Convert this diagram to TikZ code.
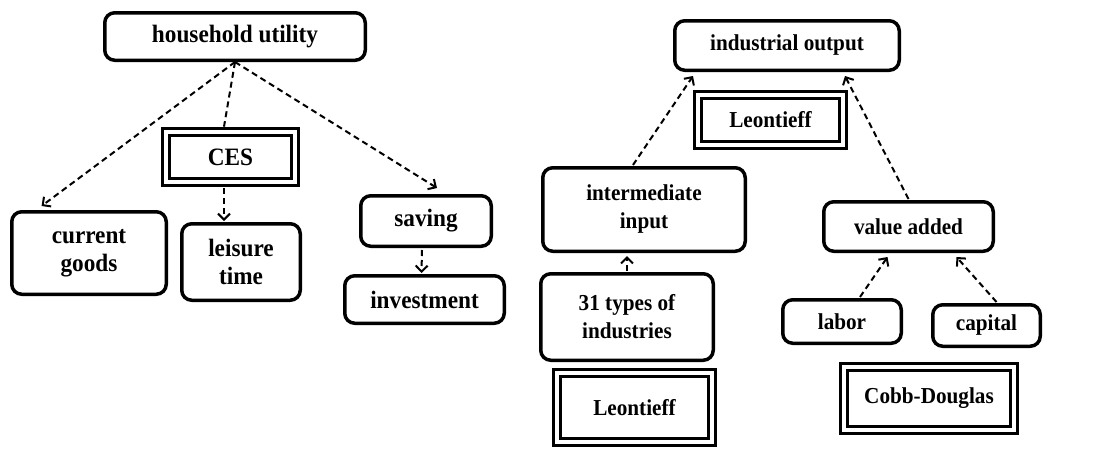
\documentclass[tikz,border=0pt]{standalone}
\usepackage{fontspec}
\setmainfont{Liberation Serif}[FakeStretch=0.93]
\usetikzlibrary{arrows.meta,calc}
\begin{document}
\begin{tikzpicture}[x=1pt,y=-1pt,
  box/.style={draw,line width=3.5pt,rounded corners=10pt,align=center,inner sep=0pt},
  dbox/.style={draw,double,line width=3.2pt,double distance=3.8pt,align=center,inner sep=0pt},
  lf/.style={font=\fontsize{25}{28}\selectfont\bfseries},
  rf/.style={font=\fontsize{22.8}{28}\selectfont\bfseries},
  dar/.style={line width=2pt,dash pattern=on 6pt off 4pt,-{Straight Barb[length=6pt,width=12pt,line width=2pt]}},
  dln/.style={line width=2pt,dash pattern=on 6pt off 4pt}]
\useasboundingbox (0,0) rectangle (1104,448);
% left diagram
\node[box,lf,minimum width=260.5pt,minimum height=47.5pt] (hu) at (235,36.5) {household utility};
\node[dbox,lf,minimum width=128.5pt,minimum height=49.5pt] (ces) at (230.5,157) {CES};
\node[box,lf,minimum width=154.5pt,minimum height=82.5pt] (cg) at (89,253) {current\\goods};
\node[box,lf,minimum width=118.5pt,minimum height=76.5pt] (lt) at (241,262) {leisure\\time};
\node[box,lf,minimum width=130.5pt,minimum height=50.5pt] (sv) at (426,221) {saving};
\node[box,lf,minimum width=159.5pt,minimum height=47.5pt] (inv) at (424.5,299.5) {investment};
\draw[dar] (hu.south) -- ($(cg.north west)!0.2!(cg.north east)+(0,-4)$);
\draw[dln] (hu.south) -- ($(ces.north)+(-6.5,-4)$);
\draw[dar] (hu.south) -- ($(sv.north)+(11,-6)$);
\draw[dar] ($(ces.south)+(-6.5,5)$) -- ($(lt.north)+(-17,-1)$);
\draw[dar] ($(sv.south)+(-4,2)$) -- ($(inv.north)+(-3,-1)$);
% right diagram
\node[box,rf,minimum width=224.5pt,minimum height=49.5pt] (io) at (787,45.5) {industrial output};
\node[dbox,rf,minimum width=144.5pt,minimum height=49.5pt] (leo) at (770.5,120) {Leontieff};
\node[box,rf,minimum width=202.5pt,minimum height=83.5pt] (ii) at (644,209.5) {intermediate\\input};
\node[box,rf,minimum width=169.5pt,minimum height=49.5pt] (va) at (908.5,226.5) {value added};
\node[box,rf,minimum width=172.5pt,minimum height=86.5pt] (t31) at (627,317) {31 types of\\industries};
\node[dbox,rf,minimum width=154.5pt,minimum height=68.5pt] (leb) at (634.5,407.5) {Leontieff};
\node[box,rf,minimum width=118.5pt,minimum height=43.5pt] (lab) at (842,321.5) {labor};
\node[box,rf,minimum width=107.5pt,minimum height=41.5pt] (cap) at (986.5,325.5) {capital};
\node[dbox,rf,minimum width=169.5pt,minimum height=62.5pt] (cd) at (929,398.5) {Cobb-Douglas};
\draw[dar] ($(ii.north)+(-11,-1)$) -- ($(io.south west)+(20,4)$);
\draw[dar] ($(va.north)+(0,-1)$) -- ($(io.south east)+(-56,4)$);
\draw[dar] ($(t31.north)+(0,-1)$) -- ($(ii.south)+(-17,3)$);
\draw[dar] ($(lab.north)+(18,-1)$) -- ($(va.south)+(-21,4)$);
\draw[dar] ($(cap.north)+(10,-1)$) -- ($(va.south)+(48,4)$);
\end{tikzpicture}
\end{document}
